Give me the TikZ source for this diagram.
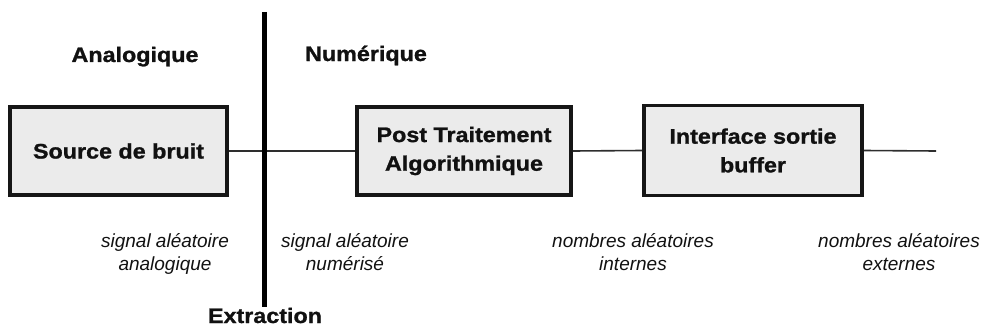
\documentclass[tikz,border=0pt]{standalone}
\usepackage{fontspec}
\setmainfont{Liberation Sans}
\newfontfamily\heavy{Liberation Sans}[FakeStretch=1.11, BoldFeatures={FakeBold=1.2}]
\definecolor{boxfill}{HTML}{EBEBEB}
\definecolor{boxline}{HTML}{161616}
\definecolor{ink}{HTML}{111111}
\definecolor{wirecol}{HTML}{2E2E2E}
\begin{document}
\begin{tikzpicture}[x=1pt,y=-1pt,
  block/.style={draw=boxline, fill=boxfill, line width=3.8pt, inner sep=0pt,
    align=center, text=ink,
    font=\heavy\bfseries\fontsize{21}{28.7}\selectfont},
  heading/.style={inner sep=0pt, anchor=base, text=ink,
    font=\heavy\bfseries\fontsize{21}{26}\selectfont},
  note/.style={inner sep=0pt, anchor=base, align=center, text=ink,
    font=\itshape\fontsize{19}{22.5}\selectfont},
  wire/.style={draw=wirecol, line width=1.6pt},
  cut/.style={draw=black, line width=5pt}]
\useasboundingbox (0,0) rectangle (987,329);

% processing chain
\node[block, minimum width=217pt, minimum height=88pt] (src) at (118.5,151) {Source de bruit};
\node[block, minimum width=214pt, minimum height=88pt] (post) at (464,151) {Post Traitement\\Algorithmique};
\node[block, minimum width=218pt, minimum height=90pt] (iface) at (753,150.5) {Interface sortie\\buffer};
\coordinate (out) at (936,151);

\draw[wire] (src.east) -- (post.west);
\draw[wire] (post.east) -- (iface.west);
\draw[wire] (iface.east) -- (out);

% analogue / digital boundary
\coordinate (cutTop) at (264,12);
\coordinate (cutBot) at (264,307);
\draw[cut] (cutTop) -- (cutBot);

% domain titles
\node[heading] (ana) at (135,62) {Analogique};
\node[heading] (num) at (366,61) {Numérique};
\node[heading] (ext) at (265,323) {Extraction};

% signal descriptions (anchored on the second line's baseline)
\node[note] (s1) at (165,270) {signal aléatoire\\analogique};
\node[note] (s2) at (345,270) {signal aléatoire\\numérisé};
\node[note] (s3) at (633,270) {nombres aléatoires\\internes};
\node[note] (s4) at (899,270) {nombres aléatoires\\externes};
\end{tikzpicture}
\end{document}
